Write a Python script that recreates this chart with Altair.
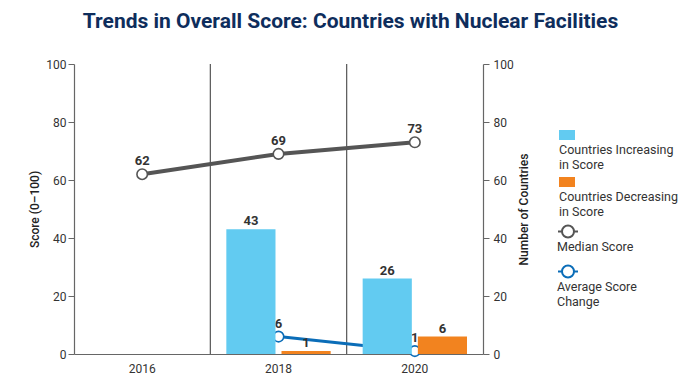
import altair as alt
import pandas as pd

years = ["2016", "2018", "2020"]
median_score = [62, 69, 73]
avg_years = ["2018", "2020"]
avg_change = [6, 1]
bar_years = ["2018", "2018", "2020", "2020"]
bar_series = ["Countries Increasing in Score", "Countries Decreasing in Score",
              "Countries Increasing in Score", "Countries Decreasing in Score"]
bar_values = [43, 1, 26, 6]
sep_years = ["2018", "2020"]

bar_domain = ["Countries Increasing in Score", "Countries Decreasing in Score"]
bar_colors = ["#62CBF1", "#F2831F"]
line_domain = ["Median Score", "Average Score Change"]
line_colors = ["#555555", "#0B6DB8"]

lines_df = pd.DataFrame(
    {"year": years + avg_years,
     "value": median_score + avg_change,
     "series": ["Median Score"] * len(years) + ["Average Score Change"] * len(avg_years)}
)
bars_df = pd.DataFrame({"year": bar_years, "series": bar_series, "value": bar_values})
sep_df = pd.DataFrame({"year": sep_years})

FONT = "Roboto"
xscale = alt.Scale(domain=years, paddingInner=0, paddingOuter=0)
xaxis = alt.Axis(title=None, ticks=False, labelPadding=9, labelAngle=0, domainColor="#666")
xenc = alt.X("year:N", scale=xscale, axis=xaxis)

yleft = alt.Scale(domain=[0, 100])

seps = alt.Chart(sep_df).mark_rule(color="#555", strokeWidth=1.2).encode(
    x=alt.X("year:N", bandPosition=0, scale=xscale, axis=xaxis),
    y=alt.datum(0, scale=yleft),
    y2=alt.datum(100),
)

stroke_enc = alt.Stroke(
    "series:N",
    scale=alt.Scale(domain=line_domain, range=line_colors),
    legend=alt.Legend(
        title=None, orient="none", legendX=483, legendY=166,
        symbolType="M-1,-0.95H-0.6M0.6,-0.95H1M-0.6,-0.95A0.6,0.6 0 1 0 0.6,-0.95A0.6,0.6 0 1 0 -0.6,-0.95Z",
        symbolSize=400, symbolStrokeWidth=2, symbolFillColor="white",
        labelBaseline="top", labelOffset={"expr": "-22"},
        labelExpr="datum.label == 'Median Score' ? ['Median Score'] : ['Average Score', 'Change']",
        rowPadding=7,
    ),
)

lines = alt.Chart(lines_df).mark_line().encode(
    x=xenc,
    y=alt.Y("value:Q", scale=yleft,
            axis=alt.Axis(title="Score (0–100)", orient="left", values=[0, 20, 40, 60, 80, 100],
                          grid=False, titlePadding=4)),
    stroke=stroke_enc,
    strokeWidth=alt.condition("datum.series == 'Median Score'", alt.value(4), alt.value(3)),
)

points = alt.Chart(lines_df).mark_point(filled=True, fill="white", size=110, strokeWidth=1.6, opacity=1).encode(
    x=xenc,
    y=alt.Y("value:Q", scale=yleft),
    stroke=alt.Stroke("series:N", scale=alt.Scale(domain=line_domain, range=line_colors), legend=None),
)

point_labels = alt.Chart(lines_df).mark_text(
    dy=-13, font=FONT, fontSize=13, fontWeight="bold", color="#333"
).encode(
    x=xenc,
    y=alt.Y("value:Q", scale=yleft),
    text="value:Q",
)

left = alt.layer(seps, lines, points, point_labels)

offset_scale = alt.Scale(domain=bar_domain, paddingInner=0.109, paddingOuter=0.29)
yright = alt.Scale(domain=[0, 100])

bars = alt.Chart(bars_df).mark_bar().encode(
    x=xenc,
    xOffset=alt.XOffset("series:N", scale=offset_scale),
    y=alt.Y("value:Q", scale=yright,
            axis=alt.Axis(title="Number of Countries", orient="right", values=[0, 20, 40, 60, 80, 100],
                          grid=False, titlePadding=5, titleAngle=270, titleBaseline="top",
                          labelPadding=4)),
    fill=alt.Fill(
        "series:N",
        scale=alt.Scale(domain=bar_domain, range=bar_colors),
        legend=alt.Legend(
            title=None, orient="none", legendX=485, legendY=72,
            symbolType="M-1,-1.75H1V-0.5H-1Z", symbolSize=256, symbolStrokeWidth=0,
            labelBaseline="top", labelOffset={"expr": "-16"},
            labelExpr="datum.label == 'Countries Increasing in Score' ? ['Countries Increasing', 'in Score'] : ['Countries Decreasing', 'in Score']",
            rowPadding=6,
        ),
    ),
)

bar_labels = alt.Chart(bars_df).mark_text(
    dy=-8, font=FONT, fontSize=13, fontWeight="bold", color="#333"
).encode(
    x=xenc,
    xOffset=alt.XOffset("series:N", scale=offset_scale),
    y=alt.Y("value:Q", scale=yright),
    text="value:Q",
)

right = alt.layer(bars, bar_labels)

chart = alt.layer(left, right).resolve_scale(y="independent").properties(
    width=409,
    height=290,
    autosize="none",
    padding={"left": 66, "top": 56, "right": 209, "bottom": 27},
    title=alt.Title(
        "Trends in Overall Score: Countries with Nuclear Facilities",
        font=FONT, fontSize=21, fontWeight="bold", color="#0E2D5C",
        anchor="middle", dx=72, offset=26,
    ),
).configure_view(stroke=None).configure_axis(
    labelFont=FONT, labelFontSize=12, labelColor="#333",
    titleFont=FONT, titleFontSize=12, titleFontWeight=500, titleColor="#222",
    domainColor="#666", tickColor="#666", tickSize=6, domainWidth=1.2,
).configure_legend(
    labelFont=FONT, labelFontSize=12.5, labelColor="#333", labelLimit=300, padding=0,
)

chart.save("out.html", embed_options={"renderer": "svg", "actions": False})
